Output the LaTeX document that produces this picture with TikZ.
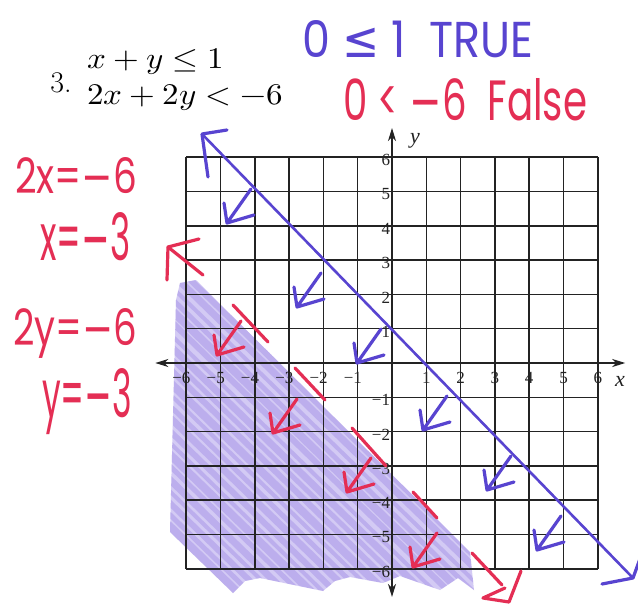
\documentclass[tikz,border=0pt]{standalone}
\usepackage{fontspec}
\usepackage{unicode-math}
\usepackage{graphicx}
\newfontfamily\handfont{Poppins}
\newfontfamily\symfont{DejaVu Sans}
\newfontfamily\tickfont{Liberation Serif}
\usetikzlibrary{arrows.meta}
\definecolor{penblue}{RGB}{88,68,208}
\definecolor{penred}{RGB}{228,46,84}
\definecolor{hlfill}{RGB}{176,160,236}
\definecolor{hlstroke}{RGB}{138,112,222}
\definecolor{ink}{RGB}{35,35,35}
\tikzset{
  marker/.style={line width=3.2pt, line cap=round, line join=round},
  gridline/.style={ink, line width=1.5pt},
  axis/.style={ink, line width=1.6pt, {Stealth[length=13pt,width=8pt,inset=4pt]}-{Stealth[length=13pt,width=8pt,inset=4pt]}},
  tick/.style={inner sep=0pt, font=\tickfont\fontsize{17}{17}\selectfont, text=ink},
  axlabel/.style={inner sep=0pt, font=\tickfont\itshape\fontsize{22}{22}\selectfont, text=ink},
  eq/.style={inner sep=0pt, anchor=west, font=\fontsize{30}{34}\selectfont},
  hand/.style={inner sep=0pt, anchor=base west, font=\handfont\fontsize{40}{40}\selectfont},
  handarrow/.pic={\draw[pic actions] (24,-34) -- (0,0) -- (-3,-20) (0,0) -- (27,-8);}
}
\begin{document}
\begin{tikzpicture}[x=1pt,y=-1pt]
\useasboundingbox[fill=white] (0,0) rectangle (638,606);

% highlighter shading
\begin{scope}
  \clip (180,283) -- (196,280) -- (470,552) -- (474,590) -- (458,578) -- (440,590) -- (400,576) -- (383,583) -- (350,577) -- (335,581) -- (323,591) -- (260,578) -- (245,581) -- (233,593) -- (170,532) -- (176,300) -- cycle;
  \fill[hlfill, opacity=0.55] (0,0) rectangle (638,606);
  \foreach \o/\w in {-300/5,-288/7,-275/4,-262/8,-250/5,-238/6,-226/4,-214/7,-200/5,-188/8,-176/4,-164/6,-150/7,-138/5,-126/4,-114/8,-100/6,-88/5,-76/7,-64/4,-50/6,-38/8,-26/5,-14/4,0/7,12/6,24/5,36/8,50/4,62/6,74/7,86/5,100/4,112/8,124/6,136/5,150/7,162/4,174/6,186/8,200/5,212/4,224/7,236/6,250/5,262/8,274/4,286/6,300/7}
    \draw[hlstroke, opacity=0.3, line width=\w pt] (160+\o,262) -- ++(360,350);
\end{scope}

% grid and axes
\begin{scope}[shift={(392,363)}, x=34.3pt, y=34.3pt]
  \foreach \i in {-6,...,6} {
    \draw[gridline] (\i,-6) -- (\i,6);
    \draw[gridline] (-6,\i) -- (6,\i);
  }
  \coordinate (xl) at (-6.9,0);
  \coordinate (xr) at (6.8,0);
  \coordinate (yt) at (0,6.85);
  \coordinate (yb) at (0,-6.82);
  \draw[axis] (xl) -- (xr);
  \draw[axis] (yb) -- (yt);
  \foreach \i in {1,...,6} {
    \node[tick] (xp\i) at (\i,-0.44) {\i};
    \node[tick] (xn\i) at (-\i,-0.44) {\llap{−}\i};
    \node[tick, anchor=east, yshift=-3pt] (yp\i) at (-0.05,\i) {\i};
    \node[tick, anchor=east, yshift=-3pt] (yn\i) at (-0.05,-\i) {−\i};
  }
\end{scope}
\node[axlabel] (ylab) at (415,141) {y};
\node[axlabel] (xlab) at (620,381) {x};

% problem text
\node[inner sep=0pt, font=\fontsize{30}{34}\selectfont] (num) at (61,83) {3.};
\node[eq] (eq1) at (87,62) {\scalebox{1.1}[1]{$x+y\le 1$}};
\node[eq] (eq2) at (87,98) {\scalebox{1.1}[1]{$2x+2y<-6$}};

% handwritten notes
\node[hand, text=penblue] (tru) at (302,57) {\resizebox{231pt}{37pt}{0 {\symfont≤} 1 \ TRUE}};
\node[hand, text=penred] (fal) at (343,120) {\raisebox{0pt}[\height][0pt]{\resizebox{244pt}{42pt}{0 < {\symfont−}6 \ False}}};
\node[hand, text=penred] (s1) at (15,193) {\resizebox{122pt}{36pt}{2x={\symfont−}6}};
\node[hand, text=penred] (s2) at (40,260) {\resizebox{90pt}{48pt}{x={\symfont−}3}};
\node[hand, text=penred] (s3) at (13,345) {\resizebox{124pt}{37pt}{2y={\symfont−}6}};
\node[hand, text=penred] (s4) at (42,417) {\resizebox{90pt}{49pt}{y={\symfont−}3}};

% blue boundary line x+y=1
\coordinate (bA) at (202,134);
\coordinate (bB) at (633,578);
\draw[penblue, marker, line width=2.6pt] (bA) -- (bB);
\draw[penblue, marker] (227,130) -- (bA) -- (208,177);
\draw[penblue, marker] (602,584) -- (bB) -- (645,545);
\foreach \p in {(227,223),(297,307),(357,363),(423,430),(487,490),(537,550)}
  \pic[penblue, marker] at \p {handarrow};

% red dashed boundary line x+y=-3
\coordinate (rA) at (168,247);
\draw[penred, marker] (199,239) -- (rA) -- (167,280);
\draw[penred, marker] (rA) -- (203,275);
\draw[penred, marker] (233,305) -- (268,342);
\draw[penred, marker] (295,368) -- (325,400);
\draw[penred, marker] (352,428) -- (386,466);
\draw[penred, marker] (413,492) -- (437,518);
\draw[penred, marker] (472,553) -- (502,585);
\draw[penred, marker] (521,571) -- (509,602) -- (483,598) -- (505,588);
\foreach \p in {(217,355),(273,433),(347,492),(413,567)}
  \pic[penred, marker] at \p {handarrow};
\end{tikzpicture}
\end{document}
